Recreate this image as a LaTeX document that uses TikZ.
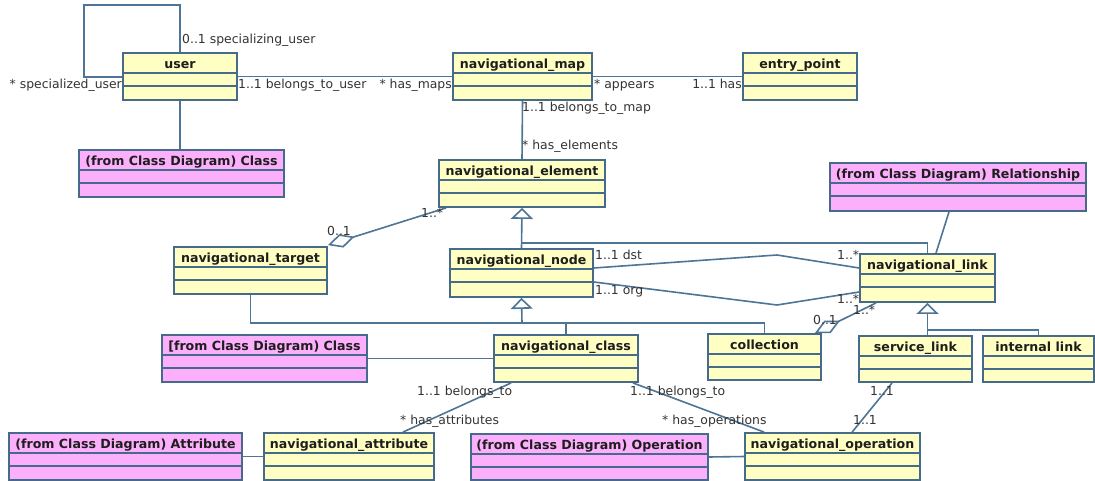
\documentclass[tikz,border=0pt]{standalone}
\usepackage{fontspec}
\setmainfont{DejaVu Sans}
\usetikzlibrary{arrows.meta,fit}
\definecolor{boxline}{HTML}{456A8A}
\definecolor{lnk}{HTML}{4E7595}
\definecolor{clsyellow}{HTML}{FFFFC4}
\definecolor{clspink}{HTML}{FCB0FC}
\definecolor{txt}{HTML}{1E1E1E}
\definecolor{lbltxt}{HTML}{333333}
\newcommand{\umlclass}[7]{%
  \node[#6, fit={(#2,#3) (#4,#5)}] (#1) {};
  \draw[boxline, line width=1.7pt] ([yshift=-21pt]#1.north west) -- ([yshift=-21pt]#1.north east)
     ([yshift=-34pt]#1.north west) -- ([yshift=-34pt]#1.north east);
  \node[ttl] (#1-t) at ([yshift=-16pt]#1.north) {#7};
}
\begin{document}
\begin{tikzpicture}[x=1pt,y=-1pt,
  umlbox/.style={draw=boxline, line width=1.8pt, inner sep=0pt},
  ybox/.style={umlbox, fill=clsyellow},
  pbox/.style={umlbox, fill=clspink},
  ttl/.style={font=\fontsize{12.6}{14}\selectfont\bfseries, text=txt, inner sep=0pt, anchor=base},
  lbl/.style={font=\fontsize{12.4}{14}\selectfont, text=lbltxt, inner sep=0pt, anchor=base west},
  conn/.style={draw=lnk, line width=1.6pt},
  gen/.style={conn, -{Triangle[open, length=11pt, width=22pt, fill=white]}},
  agg/.style={conn, -{Diamond[open, length=28pt, width=14pt, fill=white]}},
]
\useasboundingbox (0,0) rectangle (1095,481);
\fill[white] (0,0) rectangle (1095,481);

% coordinates for connector bends
\coordinate (lp) at (84,5);
\coordinate (j1) at (522,243);
\coordinate (j2) at (522,323);
\coordinate (j4) at (928,330);
\coordinate (d1) at (777,255);
\coordinate (o1) at (777,305);

% self association (behind boxes)
\draw[conn] (180,53) |- (lp) |- (123,77);

% classes
\umlclass{user}{123}{53}{237}{100}{ybox}{user}
\umlclass{navmap}{453}{53}{592}{100}{ybox}{navigational\_map}
\umlclass{entry}{743}{53}{857}{100}{ybox}{entry\_point}
\umlclass{cls1}{79}{150}{284}{197}{pbox}{(from Class Diagram) Class}
\umlclass{navel}{439}{160}{605}{207}{ybox}{navigational\_element}
\umlclass{rel}{830}{163}{1086}{211}{pbox}{(from Class Diagram) Relationship}
\umlclass{navtarget}{174}{247}{327}{294}{ybox}{navigational\_target}
\umlclass{navnode}{450}{249}{593}{297}{ybox}{navigational\_node}
\umlclass{navlink}{860}{254}{995}{302}{ybox}{navigational\_link}
\umlclass{class2}{162}{335}{367}{382}{pbox}{[from Class Diagram) Class}
\umlclass{navclass}{494}{335}{638}{382}{ybox}{navigational\_class}
\umlclass{collection}{708}{334}{821}{380}{ybox}{collection}
\umlclass{servicelink}{859}{336}{972}{382}{ybox}{service\_link}
\umlclass{internal}{983}{336}{1094}{382}{ybox}{internal link}
\umlclass{attr}{9}{433}{242}{480}{pbox}{(from Class Diagram) Attribute}
\umlclass{navattr}{264}{433}{434}{480}{ybox}{navigational\_attribute}
\umlclass{op}{471}{434}{708}{480}{pbox}{(from Class Diagram) Operation}
\umlclass{navop}{745}{433}{920}{480}{ybox}{navigational\_operation}

% associations
\draw[conn] (user.south) -- (user.south |- cls1.north);
\draw[conn] (user.east) -- (navmap.west);
\draw[conn] (navmap.east) -- (entry.west);
\draw[conn] (navmap.south) -- (navel.north);
\draw[conn] ([yshift=5pt]navnode.east) -- (d1) -- ([yshift=10pt]navlink.west);
\draw[conn] ([yshift=-9pt]navnode.east) -- (o1) -- ([yshift=-14pt]navlink.west);
\draw[conn] ([xshift=-9pt]rel.south) -- ([xshift=8.5pt]navlink.north);
\draw[conn] (class2.east) -- (navclass.west);
\draw[conn] ([xshift=18pt]navclass.south west) -- ([xshift=-32pt]navattr.north east);
\draw[conn] ([xshift=-6pt]navclass.south east) -- ([xshift=20pt]navop.north west);
\draw[conn] ([xshift=34pt]servicelink.south west) -- ([xshift=108pt]navop.north west);
\draw[conn] (attr.east) -- (navattr.west);
\draw[conn] (op.east) -- (navop.west);

% aggregations
\draw[agg] ([xshift=8pt]navel.south west) -- ([yshift=1pt]navtarget.north east);
\draw[agg] ([xshift=17pt]navlink.south west) -- ([xshift=-7pt]collection.north east);

% generalizations
\draw[gen] (navnode.north) -- (navel.south);
\draw[conn] (navlink.north) |- (j1);
\draw[gen] (j2) -- (navnode.south);
\draw[conn] (navtarget.south) |- (j2) -| (collection.north);
\draw[conn] (navclass.north) -- (navclass.north |- j2);
\draw[gen] (navlink.south |- servicelink.north) -- (navlink.south);
\draw[conn] (internal.north) |- (j4);

% role labels
\node[lbl] (l1) at (182,44) {0..1 specializing\_user};
\node[lbl, anchor=base east] (l2) at (122,89) {* specialized\_user};
\node[lbl] (l3) at (238,89) {1..1 belongs\_to\_user};
\node[lbl, anchor=base east] (l4) at (452,89) {* has\_maps};
\node[lbl] (l5) at (594,89) {* appears};
\node[lbl, anchor=base east] (l6) at (742,89) {1..1 has};
\node[lbl] (l7) at (522,112) {1..1 belongs\_to\_map};
\node[lbl] (l8) at (522,150) {* has\_elements};
\node[lbl] (l9) at (327,236) {0..1};
\node[lbl] (l10) at (421,218) {1..*};
\node[lbl] (l11) at (595,259) {1..1 dst};
\node[lbl] (l12) at (837,259) {1..*};
\node[lbl] (l13) at (595,294) {1..1 org};
\node[lbl] (l14) at (837,303) {1..*};
\node[lbl] (l15) at (853,314) {1..*};
\node[lbl] (l16) at (813,324) {0..1};
\node[lbl] (l17) at (417,395) {1..1 belongs\_to};
\node[lbl] (l18) at (400,424) {* has\_attributes};
\node[lbl] (l19) at (630,395) {1..1 belongs\_to};
\node[lbl] (l20) at (662,424) {* has\_operations};
\node[lbl] (l21) at (870,395) {1..1};
\node[lbl] (l22) at (853,424) {1..1};
\end{tikzpicture}
\end{document}
